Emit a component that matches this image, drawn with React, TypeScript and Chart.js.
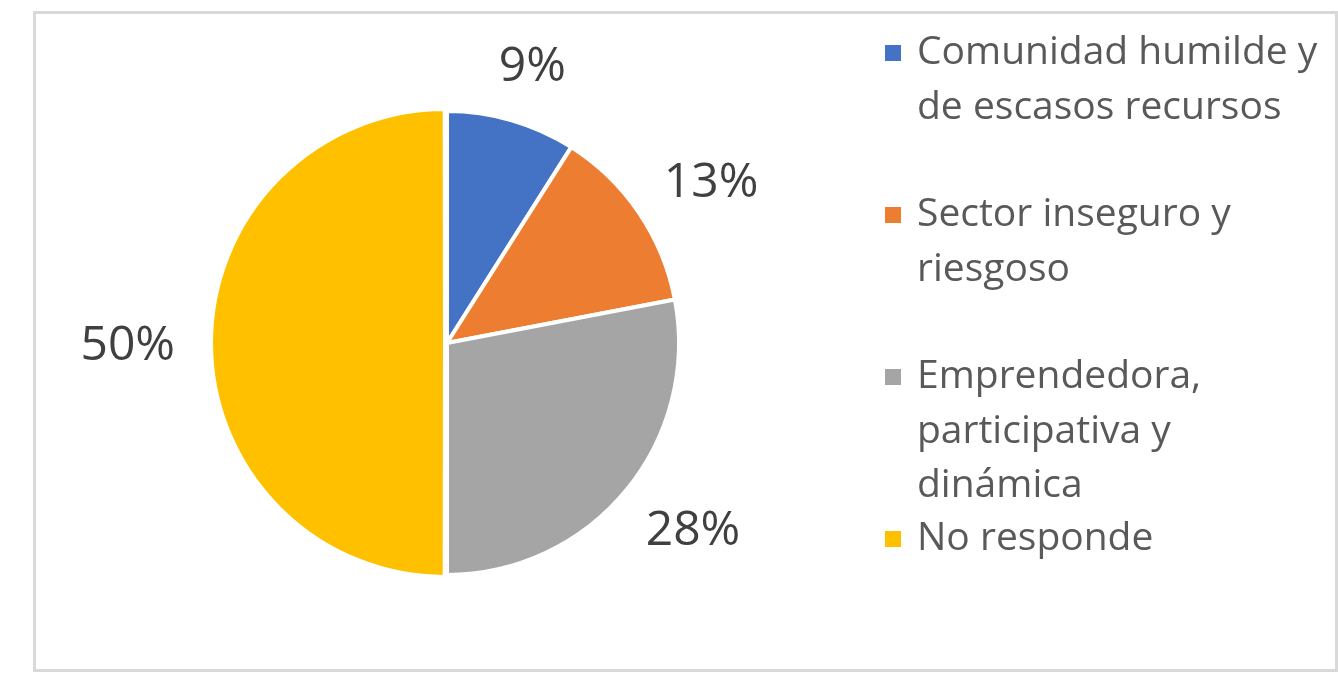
import React, { useEffect, useRef } from "react";
import { Chart, registerables } from "chart.js";

Chart.register(...registerables);

const categories: string[][] = [
  ["Comunidad humilde y", "de escasos recursos"],
  ["Sector inseguro y", "riesgoso"],
  ["Emprendedora,", "participativa y", "dinámica"],
  ["No responde"],
];
const percentages: number[] = [9, 13, 28, 50];
const sliceColors: string[] = ["#4472C4", "#ED7D31", "#A5A5A5", "#FFC000"];
const sliceOffsets: number[] = [0, 0, 0, 8];

const FONT = "'Open Sans', 'Noto Sans', sans-serif";

const labelsPlugin = {
  id: "pctLabels",
  afterDatasetsDraw(chart: any) {
    const ctx = chart.ctx;
    const meta = chart.getDatasetMeta(0);
    const data = chart.data.datasets[0].data as number[];
    ctx.save();
    ctx.font = `48px ${FONT}`;
    ctx.fillStyle = "#404040";
    ctx.textAlign = "center";
    ctx.textBaseline = "middle";
    const gap = 40;
    const h = 36;
    meta.data.forEach((arc: any, i: number) => {
      const text = `${data[i]}%`;
      const w = ctx.measureText(text).width;
      const mid = (arc.startAngle + arc.endAngle) / 2;
      const ux = Math.cos(mid);
      const uy = Math.sin(mid);
      const d = arc.outerRadius + gap;
      const x = arc.x + ux * d + (ux * w) / 2;
      const y = arc.y + uy * d + (uy * h) / 2 + 3;
      ctx.fillText(text, x, y);
    });
    ctx.restore();
  },
};

const legendPlugin = {
  id: "wrapLegend",
  afterDraw(chart: any) {
    const ctx = chart.ctx;
    const labels = chart.data.labels as string[][];
    const colors = chart.data.datasets[0].backgroundColor as string[];
    const top = 53;
    const slot = 162;
    const lineH = 54.5;
    const boxX = 885;
    const textX = 917;
    const box = 16;
    ctx.save();
    ctx.font = `39px ${FONT}`;
    ctx.textAlign = "left";
    ctx.textBaseline = "middle";
    labels.forEach((lines, i) => {
      const y0 = top + i * slot;
      ctx.fillStyle = colors[i];
      ctx.fillRect(boxX, y0 - box / 2, box, box);
      ctx.fillStyle = "#595959";
      lines.forEach((ln, j) => {
        ctx.fillText(ln, textX, y0 + j * lineH);
      });
    });
    ctx.restore();
  },
};

export default function App() {
  const ref = useRef<HTMLCanvasElement | null>(null);
  useEffect(() => {
    document.body.style.margin = "0";
    if (!ref.current) return;
    const chart = new Chart(ref.current, {
      type: "pie",
      data: {
        labels: categories as any,
        datasets: [
          {
            data: percentages,
            backgroundColor: sliceColors,
            borderColor: "#ffffff",
            borderWidth: 4,
            offset: sliceOffsets,
          },
        ],
      },
      options: {
        animation: false,
        responsive: false,
        maintainAspectRatio: false,
        radius: 232,
        layout: { padding: { left: 0, right: 444, top: 13, bottom: 0 } },
        plugins: {
          legend: { display: false },
          tooltip: { enabled: false },
        },
      } as any,
      plugins: [labelsPlugin, legendPlugin],
    });
    return () => chart.destroy();
  }, []);
  return (
    <div style={{ position: "relative", width: 1338, height: 673, background: "#ffffff" }}>
      <div
        style={{
          position: "absolute",
          left: 33,
          top: 11,
          width: 1305,
          height: 661,
          boxSizing: "border-box",
          border: "3px solid #d9d9d9",
        }}
      />
      <canvas ref={ref} width={1338} height={673} style={{ position: "absolute", left: 0, top: 0 }} />
    </div>
  );
}
